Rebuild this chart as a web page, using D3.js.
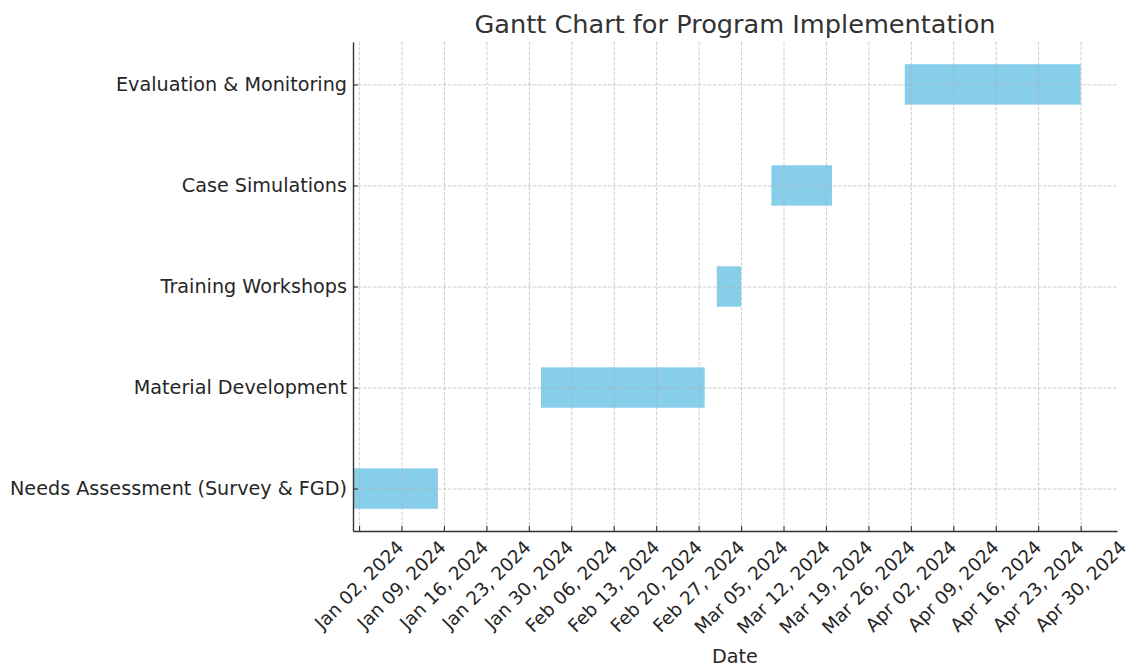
<!DOCTYPE html>
<html>
<head>
<meta charset="utf-8">
<script src="https://cdn.jsdelivr.net/npm/d3@7"></script>
<style>
  body { margin: 0; background: #fff; }
  text { font-family: "DejaVu Sans", sans-serif; }
</style>
</head>
<body>
<div id="graphicContainer"></div>
<script>
// tasks, bottom to top
var tasks = ["Needs Assessment (Survey & FGD)", "Material Development", "Training Workshops", "Case Simulations", "Evaluation & Monitoring"]
var starts = ["2024-01-01", "2024-02-01", "2024-03-01", "2024-03-10", "2024-04-01"]
var ends = ["2024-01-15", "2024-02-28", "2024-03-05", "2024-03-20", "2024-04-30"]
var tickDates = ["2024-01-02", "2024-01-09", "2024-01-16", "2024-01-23", "2024-01-30", "2024-02-06", "2024-02-13", "2024-02-20", "2024-02-27", "2024-03-05", "2024-03-12", "2024-03-19", "2024-03-26", "2024-04-02", "2024-04-09", "2024-04-16", "2024-04-23", "2024-04-30"]

var parse = d3.utcParse("%Y-%m-%d")
var fmt = d3.utcFormat("%b %d, %Y")

var width = 1130, height = 669
var margin = {top: 42, right: 13, bottom: 138, left: 353}
var fs = 19.2
var xfs = 18.4

var svg = d3.select("#graphicContainer").append("svg")
	.attr("width", width)
	.attr("height", height)

var x = d3.scaleUtc()
	.domain([parse("2024-01-01"), parse("2024-05-06")])
	.range([margin.left, width - margin.right])

var y = d3.scaleLinear()
	.domain([-0.42, 4.42])
	.range([height - margin.bottom, margin.top])

var bottom = height - margin.bottom

// bars
svg.append("g")
	.selectAll("rect")
	.data(tasks)
	.enter()
	.append("rect")
	.attr("x", (d, i) => x(parse(starts[i])))
	.attr("width", (d, i) => x(parse(ends[i])) - x(parse(starts[i])))
	.attr("y", (d, i) => y(i + 0.2))
	.attr("height", (d, i) => y(i - 0.2) - y(i + 0.2))
	.attr("fill", "#87ceeb")

// grid (drawn over bars)
var grid = svg.append("g")
	.attr("stroke", "#b0b0b0")
	.attr("stroke-opacity", 0.7)
	.attr("stroke-width", 0.9)
	.attr("stroke-dasharray", "3.5,1.5")

grid.selectAll(".vx")
	.data(tickDates)
	.enter()
	.append("line")
	.attr("x1", d => x(parse(d)) + 0.5)
	.attr("x2", d => x(parse(d)) + 0.5)
	.attr("y1", margin.top)
	.attr("y2", bottom)

grid.selectAll(".hy")
	.data(tasks)
	.enter()
	.append("line")
	.attr("x1", margin.left)
	.attr("x2", width - margin.right)
	.attr("y1", (d, i) => y(i) + 0.5)
	.attr("y2", (d, i) => y(i) + 0.5)

// axes
var xAxis = d3.axisBottom(x)
	.tickValues(tickDates.map(parse))
	.tickFormat("")
	.tickSizeInner(-5)
	.tickSizeOuter(0)

var gx = svg.append("g")
	.attr("transform", "translate(0," + bottom + ")")
	.call(xAxis)
gx.select(".domain").attr("stroke", "#333").attr("stroke-width", 1.4)
gx.selectAll(".tick line").attr("stroke", "#333").attr("stroke-width", 1.1)

var yAxis = d3.axisLeft(y)
	.tickValues(d3.range(tasks.length))
	.tickFormat(i => tasks[i])
	.tickSizeInner(-5)
	.tickSizeOuter(0)
	.tickPadding(6)

var gy = svg.append("g")
	.attr("transform", "translate(" + margin.left + ",0)")
	.call(yAxis)
gy.select(".domain").attr("stroke", "#333").attr("stroke-width", 1.4)
gy.selectAll(".tick line").attr("stroke", "#333").attr("stroke-width", 1.1)
gy.selectAll(".tick text")
	.attr("font-size", fs)
	.attr("fill", "#262626")

// rotated x labels, centred on tick like matplotlib
var labels = svg.append("g")
tickDates.forEach(function(d) {
	var t = labels.append("text")
		.attr("font-size", xfs)
		.attr("fill", "#262626")
		.attr("text-anchor", "middle")
		.attr("dominant-baseline", "central")
		.text(fmt(parse(d)))
	var L = t.node().getComputedTextLength()
	var h = xfs * 0.9
	var bh = (L + h) * Math.SQRT1_2
	var cx = x(parse(d))
	var cy = bottom + 7 + bh / 2
	t.attr("x", cx).attr("y", cy)
		.attr("transform", "rotate(-45," + cx + "," + cy + ")")
})

svg.append("text")
	.attr("x", (margin.left + width - margin.right) / 2)
	.attr("y", 663)
	.attr("text-anchor", "middle")
	.attr("font-size", fs)
	.attr("fill", "#262626")
	.text("Date")

svg.append("text")
	.attr("x", (margin.left + width - margin.right) / 2)
	.attr("y", 33)
	.attr("text-anchor", "middle")
	.attr("font-size", 25.6)
	.attr("fill", "#333")
	.text("Gantt Chart for Program Implementation")
</script>
</body>
</html>
